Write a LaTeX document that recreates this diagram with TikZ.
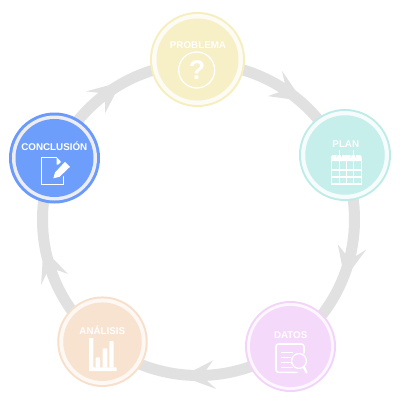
\documentclass[tikz,border=0pt]{standalone}
\usepackage{fontspec}
\setmainfont{Liberation Sans}
\usetikzlibrary{calc}
\definecolor{ringgray}{HTML}{E1E1E1}
\definecolor{cA}{HTML}{F7EFC6}\definecolor{cAr}{HTML}{F7EEBE}
\definecolor{cB}{HTML}{C6EEEB}\definecolor{cBr}{HTML}{BDECE8}
\definecolor{cC}{HTML}{F4D9FA}\definecolor{cCr}{HTML}{F2D4F9}
\definecolor{cD}{HTML}{F8E3D0}\definecolor{cDr}{HTML}{F7DFCA}
\definecolor{cE}{HTML}{6E9EFB}\definecolor{cEr}{HTML}{6A9AFB}
\definecolor{ringA}{HTML}{FCFBF4}\definecolor{ringB}{HTML}{F5FCFB}
\definecolor{ringC}{HTML}{FCF6FE}\definecolor{ringD}{HTML}{FDF8F3}
\definecolor{ringE}{HTML}{EEEEF2}
\tikzset{x=1pt,y=-1pt,
 ringline/.style={draw=ringgray,line width=11pt},
 arrowtip/.style={fill=ringgray,draw=none},
 dot/.style={circle,inner sep=0pt,draw=none,minimum size=#1},
 lab/.style={text=white,font=\bfseries\fontsize{9.8}{10}\selectfont,inner sep=0pt,anchor=base},
 ico/.style={draw=white,line width=1.3pt,line cap=round,line join=round}}
\begin{document}
\begin{tikzpicture}
\useasboundingbox (0,0) rectangle (403,405);
\coordinate (ctr) at (198.5,219.5);
\draw[ringline] (ctr) circle (156);
\foreach \a in {-60.7,10.1,84,157.4,228.7}{
  \fill[arrowtip]
   ($(ctr)+(\a:170.5)$) -- ($(ctr)+(\a+7.5:161.5)$) -- ($(ctr)+(\a+7.5:150.5)$) --
   ($(ctr)+(\a:141.5)$) -- ($(ctr)+(\a+3:150.5)$) -- ($(ctr)+(\a+3:161.5)$) -- cycle;
}
% discs
\node[dot=95pt,fill=cAr] (p) at (197.5,59.5) {};
\node[dot=91pt,fill=ringA] (pr) at (p) {};
\node[dot=82pt,fill=cA] (pi) at (p) {};
\node[dot=92pt,fill=cBr] (q) at (345,155) {};
\node[dot=88pt,fill=ringB] (qr) at (q) {};
\node[dot=79.5pt,fill=cB] (qi) at (q) {};
\node[dot=91pt,fill=cCr] (r) at (290.5,346.5) {};
\node[dot=87pt,fill=ringC] (rr) at (r) {};
\node[dot=81pt,fill=cC] (ri) at (r) {};
\node[dot=90.5pt,fill=cDr] (s) at (102.5,341.7) {};
\node[dot=86.5pt,fill=ringD] (sr) at (s) {};
\node[dot=78.5pt,fill=cD] (si) at (s) {};
\node[dot=91pt,fill=cEr] (t) at (54.5,158) {};
\node[dot=85pt,fill=ringE] (tr) at (t) {};
\node[dot=78pt,fill=cE] (ti) at (t) {};
% labels
\node[lab] (lp) at (198,48.2) {PROBLEMA};
\node[lab] (lq) at (345.8,147.2) {PLAN};
\node[lab] (lr) at (290.7,338.8) {DATOS};
\node[lab] (ls) at (102.3,334.2) {ANÁLISIS};
\node[lab] (lt) at (54.3,150.8) {CONCLUSIÓN};
% question icon
\draw[ico] (196.7,70) circle (18);
\node[text=white,inner sep=0pt,anchor=base,font=\bfseries\fontsize{27}{27}\selectfont] (qm) at (197,79.7) {?};
% calendar
\fill[white,rounded corners=1.5pt] (331,161) rectangle (361.7,155);
\draw[white,line width=1.1pt] (331.6,160) rectangle (361.1,184);
\foreach \x in {339.1,346.4,353.7}\draw[white,line width=1.1pt] (\x,160) -- (\x,184);
\foreach \y in {170,177}\draw[white,line width=1.1pt] (331.6,\y) -- (361.1,\y);
\foreach \x in {339.3,353.3}{
 \draw[cB,line width=.9pt] (\x-2.2,152.5) -- (\x-2.2,155.5) arc (180:360:2.2) -- (\x+2.2,152.5);
 \draw[white,line width=1.1pt] (\x,150) -- (\x,157);}
% datos icon
\draw[ico,line width=1.6pt,rounded corners=2.5pt] (304,353) -- (304,344) -- (276,344) -- (276,372.3) -- (297,372.3);
\foreach \y/\l in {352.7/12,357.7/9.5,362.7/9.5,367.7/12}\draw[white,line width=1.4pt] (281,\y) -- ++(\l,0);
\draw[draw=white,fill=cC,line width=1.3pt] (299,361) circle (7.4);
\draw[white,line width=2.3pt,line cap=round] (303.8,366.8) -- (306.5,372.5);
% analisis icon
\fill[white] (89,338) -- (93.3,338) -- (93.3,367.3) -- (116.7,367.3) -- (116.7,371) -- (89,371) -- cycle;
\fill[white,rounded corners=.8pt] (95.7,367.5) rectangle (100,357.3);
\fill[white,rounded corners=.8pt] (102.7,367.5) rectangle (107.3,348.3);
\fill[white,rounded corners=.8pt] (109.3,367.5) rectangle (113.7,341);
% conclusion icon
\draw[ico,line width=1.1pt,line cap=butt] (56.7,157.6) -- (41.2,157.6) -- (41.2,184.5) -- (63.6,184.5) -- (63.6,172);
\fill[white] (56.7,157.3) -- (63.6,164.5) -- (56.7,164.5) -- cycle;
\fill[cE] (50.5,180) -- (52,171) -- (65,158) -- (73,166.5) -- (60,179.5) -- cycle;
\fill[white] (53.3,178.3) -- (55,172.5) -- (65,161.8) -- (70,166.8) -- (59.5,176.8) -- cycle;
\end{tikzpicture}
\end{document}
